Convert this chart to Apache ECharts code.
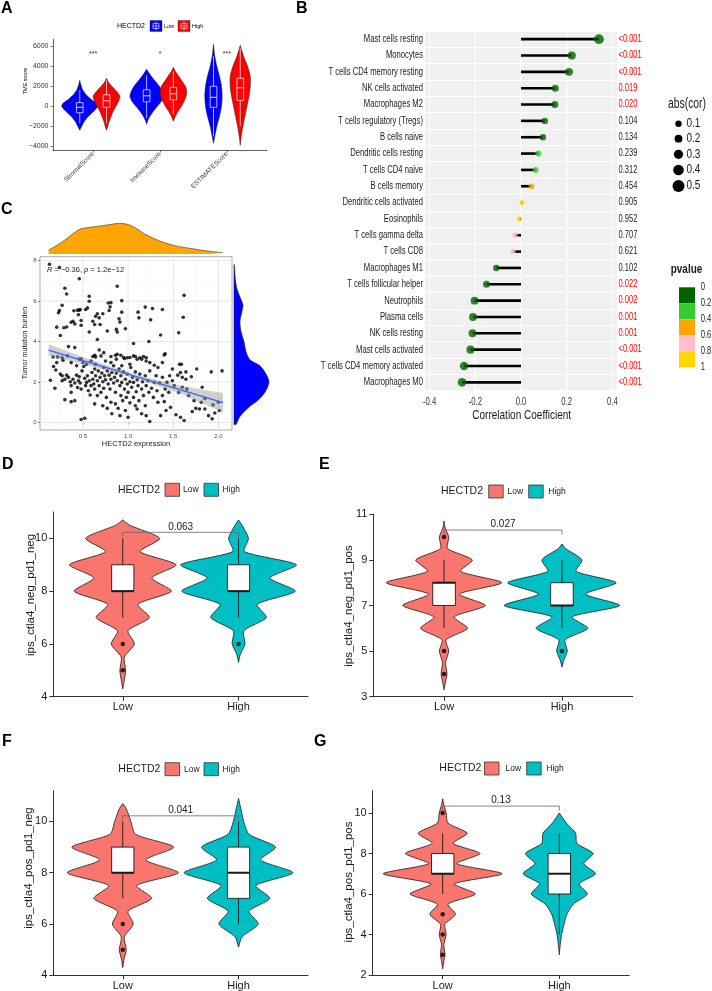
<!DOCTYPE html>
<html><head><meta charset="utf-8">
<script src="https://cdn.jsdelivr.net/npm/echarts@6/dist/echarts.min.js"></script>
<style>html,body{margin:0;padding:0;background:#fff}#main{width:712px;height:991px}</style>
</head><body><div id="main"></div>
<script>
// ---------------- DATA ----------------
// Panel A
const tmeCategories = ['StromalScore', 'ImmuneScore', 'ESTIMATEScore'];
const tmeSig = ['***', '*', '***'];
const tmeSigY = 5250;
const tmeTicks = [-4000, -2000, 0, 2000, 4000, 6000];
const stromalLowViolin = [[-2400,0],[-2000,0.03],[-1500,0.07],[-1000,0.13],[-500,0.21],[0,0.27],[300,0.25],[700,0.17],[1200,0.09],[1700,0.04],[2200,0.015],[2600,0]];
const stromalHighViolin = [[-2400,0],[-2000,0.02],[-1500,0.04],[-1000,0.07],[-500,0.1],[0,0.14],[500,0.18],[1000,0.2],[1500,0.15],[2000,0.08],[2400,0.03],[2800,0]];
const immuneLowViolin = [[-1800,0],[-1400,0.02],[-1000,0.05],[-500,0.1],[0,0.16],[500,0.22],[1000,0.25],[1500,0.23],[2000,0.19],[2500,0.13],[3000,0.07],[3400,0.03],[3700,0]];
const immuneHighViolin = [[-1500,0],[-1000,0.03],[-500,0.07],[0,0.12],[500,0.16],[1000,0.19],[1500,0.2],[2000,0.18],[2500,0.13],[3000,0.08],[3500,0.03],[3900,0]];
const estimateLowViolin = [[-3700,0],[-3000,0.02],[-2000,0.05],[-1000,0.09],[0,0.12],[1000,0.13],[2000,0.12],[3000,0.09],[4000,0.05],[5000,0.02],[6200,0]];
const estimateHighViolin = [[-3900,0],[-3000,0.015],[-2000,0.04],[-1000,0.07],[0,0.1],[1000,0.13],[2000,0.15],[3000,0.15],[4000,0.11],[5000,0.05],[6100,0]];
// boxes: [lower whisker, q1, median, q3, upper whisker]
const stromalLowBox = [-1700,-640,-100,360,1600];
const stromalHighBox = [-1700,-100,550,1150,2600];
const immuneLowBox = [-1200,450,1050,1650,3100];
const immuneHighBox = [-800,650,1250,1900,3500];
const estimateLowBox = [-3000,-100,900,2000,5000];
const estimateHighBox = [-2000,600,1850,2800,5800];

// Panel B
const cells = ['Mast cells resting','Monocytes','T cells CD4 memory resting','NK cells activated','Macrophages M2','T cells regulatory (Tregs)','B cells naive','Dendritic cells resting','T cells CD4 naive','B cells memory','Dendritic cells activated','Eosinophils','T cells gamma delta','T cells CD8','Macrophages M1','T cells follicular helper','Neutrophils','Plasma cells','NK cells resting','Mast cells activated','T cells CD4 memory activated','Macrophages M0'];
const cors = [0.341,0.222,0.210,0.150,0.148,0.104,0.096,0.076,0.064,0.046,0.004,-0.006,-0.027,-0.036,-0.108,-0.151,-0.203,-0.210,-0.212,-0.221,-0.249,-0.258];
const pNums = [0.0005,0.0005,0.0005,0.019,0.020,0.104,0.134,0.239,0.312,0.454,0.905,0.952,0.707,0.621,0.102,0.022,0.002,0.001,0.001,0.0005,0.0005,0.0005];
const pLabels = ['<0.001','<0.001','<0.001','0.019','0.020','0.104','0.134','0.239','0.312','0.454','0.905','0.952','0.707','0.621','0.102','0.022','0.002','0.001','0.001','<0.001','<0.001','<0.001'];
const corTicks = [-0.4, -0.2, 0, 0.2, 0.4];
const sizeLegend = [0.1, 0.2, 0.3, 0.4, 0.5];
const pBreaks = ['0', '0.2', '0.4', '0.6', '0.8', '1'];
const pBinColors = ['#006400', '#32CD32', '#FFA500', '#FFC0CB', '#FFD700'];

// Panel C
const tmbPoints = [
[0.13,7.82],[0.24,7.66],[0.46,7.10],[0.30,6.63],[0.32,6.35],[0.88,6.73],[0.57,6.24],[0.57,5.99],[0.27,5.79],[0.24,5.53],[0.23,5.42],[0.40,5.52],[0.44,5.55],[0.46,5.55],[0.47,5.58],[0.45,5.32],[0.53,5.58],[0.55,5.66],[0.66,5.37],[0.72,5.37],[0.80,5.71],[0.79,5.53],[0.78,5.90],[0.81,5.92],[0.93,6.02],[0.93,5.45],[0.91,4.96],[0.90,5.12],[0.64,5.25],[0.68,5.17],[0.61,5.00],[0.39,5.00],[0.41,4.87],[0.37,4.95],[0.21,4.71],[0.29,4.68],[0.32,4.72],[0.48,4.80],[0.48,5.04],[0.63,4.84],[0.69,4.84],[0.77,4.52],[0.87,4.60],[0.88,4.47],[0.97,4.63],[0.57,4.47],[1.11,5.45],[1.12,5.17],[1.19,5.70],[1.25,5.07],[1.27,5.63],[1.38,5.58],[1.23,4.00],[1.36,4.32],[1.40,3.34],[1.41,3.40],[1.62,6.28],[1.61,5.20],[1.56,4.43],[1.06,3.90],[0.66,4.10],[0.25,4.30],
[0.34,3.75],[0.41,3.70],[0.22,3.24],[0.27,3.20],[0.33,3.29],[0.46,3.13],[0.50,2.96],[0.61,3.26],[0.63,3.32],[0.64,3.24],[0.68,3.58],[0.73,3.45],[0.81,3.26],[0.86,3.32],[0.92,3.32],[0.96,3.16],[0.99,3.20],[1.06,3.29],[1.10,3.13],[1.13,3.20],[1.17,3.26],[1.20,3.20],[1.02,2.88],[0.93,2.80],
[0.17,3.24],[0.21,2.96],[0.28,3.08],[0.37,2.96],[0.43,2.80],[0.48,3.13],[0.54,2.88],[0.59,3.04],[0.64,2.88],[0.70,3.29],[0.75,3.04],[0.81,2.96],[0.87,3.13],[0.88,3.37],[0.95,3.21],[1.02,3.21],[1.08,3.26],[1.15,3.13],[1.20,3.04],[1.24,2.96],[1.29,2.83],[1.33,2.72],[1.38,2.96],[1.49,2.64],[1.64,2.50],[1.76,2.64],[1.92,2.50],
[0.14,2.09],[0.19,1.69],[0.30,1.13],[0.37,1.03],[0.41,1.08],[0.48,0.15],[0.52,0.21],[0.175,2.77],[0.20,2.59],[0.25,2.39],[0.27,2.31],[0.27,2.06],[0.30,2.14],[0.32,2.34],[0.34,2.23],[0.36,2.01],[0.37,1.82],[0.37,1.49],[0.39,2.14],[0.41,1.95],[0.43,2.34],[0.44,1.73],[0.45,2.06],[0.46,2.26],[0.47,1.95],[0.48,1.65],[0.49,2.55],[0.51,2.77],[0.52,2.18],[0.53,1.82],[0.54,1.98],[0.55,2.31],[0.56,1.57],[0.57,2.06],[0.58,1.36],[0.59,1.82],[0.60,2.47],[0.61,2.14],[0.62,1.90],[0.63,2.64],[0.63,1.65],[0.64,2.31],[0.66,2.06],[0.66,1.33],[0.67,2.55],[0.68,1.82],[0.69,2.23],[0.70,1.49],[0.71,2.44],[0.72,2.01],[0.73,2.72],[0.73,1.69],[0.74,2.31],[0.75,2.11],[0.76,1.24],[0.77,2.55],[0.78,1.90],[0.79,2.34],[0.80,1.65],[0.81,2.14],[0.81,1.00],[0.82,2.47],[0.84,1.95],[0.84,2.80],[0.85,2.23],[0.86,1.49],[0.87,2.44],[0.88,2.06],[0.89,0.70],[0.90,2.64],[0.91,1.82],[0.92,1.33],[0.92,2.31],[0.93,1.98],[0.94,1.08],[0.95,2.50],[0.96,1.65],[0.97,2.14],[0.98,1.24],[0.99,1.90],[0.99,2.39],[1.00,1.49],[1.02,2.01],[1.02,0.97],[1.03,2.72],[1.04,1.74],[1.05,2.23],[1.06,1.24],[1.06,1.98],[1.08,2.50],[1.09,1.52],[1.10,0.67],[1.10,2.11],[1.11,1.82],[1.12,1.08],[1.13,2.39],[1.15,1.65],[1.16,2.01],[1.17,1.33],[1.19,2.31],[1.20,1.82],[1.20,0.34],[1.22,2.06],[1.23,1.49],[1.24,0.05],[1.24,2.55],[1.26,1.69],[1.28,1.24],[1.29,1.98],[1.31,2.31],[1.32,1.57],[1.33,1.00],[1.35,1.95],[1.36,0.34],[1.38,1.33],[1.38,2.23],[1.40,1.03],[1.41,1.65],[1.43,1.98],[1.45,1.49],[1.46,2.31],[1.47,0.75],[1.49,2.06],[1.51,1.82],[1.53,0.38],[1.55,2.34],[1.56,1.49],[1.57,2.88],[1.58,2.47],[1.59,2.88],[1.60,2.23],[1.60,1.74],[1.62,0.10],[1.64,2.14],[1.65,1.65],[1.67,1.33],[1.70,2.26],[1.71,0.54],[1.73,1.08],[1.75,0.70],[1.79,0.67],[1.81,1.00],[1.82,1.74],[1.85,1.19],[1.85,0.67],[1.89,0.34],[1.93,0.18],[1.94,0.87],[1.96,0.47],[2.00,1.00],[2.04,2.55],[2.01,0.59],
[0.82,0.43],[0.91,0.34],[0.97,0.59],[1.00,0.26],[1.08,0.83],[1.15,0.43],[1.19,0.83],[1.42,0.59],[1.58,0.26],[0.72,0.83],[0.63,0.92],[0.77,0.70],[0.86,0.92]
];
const regX = [0.12, 0.5, 0.9, 1.2, 1.6, 2.05];
const regFit = [3.57, 3.06, 2.52, 2.12, 1.59, 0.98];
const regLower = [3.28, 2.89, 2.41, 2.00, 1.39, 0.50];
const regUpper = [3.86, 3.23, 2.63, 2.24, 1.79, 1.46];
const expDensX = [0.12,0.2,0.3,0.4,0.47,0.6,0.69,0.8,0.9,1.02,1.1,1.17,1.25,1.35,1.45,1.57,1.7,1.8,1.9,2.05];
const expDensH = [4,8,14,21,25,27,28,29.5,30.7,29,25,20.7,17,13,10,7.3,5.5,4,2.8,1.3];
const tmbDensY = [-0.1,0.3,0.8,1.1,1.5,2.0,2.4,2.8,3.1,3.5,4.0,4.5,5.0,5.5,5.8,6.2,6.6,7.0,7.8];
const tmbDensW = [2,6,16,24,31,35,32,26,16,12,10,7,6,8,9,6,3,1.5,0.3];
const cTicksX = [0.5, 1.0, 1.5, 2.0];
const cMinorX = [0.25, 0.75, 1.25, 1.75];
const cTicksY = [0, 2, 4, 6, 8];
const cMinorY = [1, 3, 5, 7];

// Panels D-G
const groups = ['Low', 'High'];
const dLowViolin = [[4.3,0],[4.6,0.012],[5.0,0.025],[5.5,0.013],[6.0,0.1],[6.5,0.045],[7.0,0.23],[7.5,0.13],[8.0,0.42],[8.5,0.25],[9.0,0.46],[9.5,0.15],[10.0,0.32],[10.5,0.06],[10.7,0]];
const dHighViolin = [[5.3,0],[5.6,0.015],[6.0,0.055],[6.5,0.045],[7.0,0.24],[7.5,0.16],[8.0,0.49],[8.5,0.27],[9.0,0.5],[9.5,0.05],[10.0,0.086],[10.5,0.03],[10.7,0]];
const dLowBox = [7,8,8,9,10], dHighBox = [7,8,8,9,10];
const dLowOut = [6,5], dHighOut = [6];
const dP = '0.063', dBracket = 10.23;
const eLowViolin = [[3.3,0],[3.6,0.01],[4.0,0.025],[4.5,0.013],[5.0,0.04],[5.5,0.018],[6.0,0.2],[6.5,0.085],[7.0,0.35],[7.5,0.13],[8.0,0.49],[8.5,0.14],[9.0,0.24],[9.5,0.03],[10.0,0.04],[10.4,0.01],[10.7,0]];
const eHighViolin = [[4.3,0],[4.6,0.015],[5.0,0.045],[5.5,0.028],[6.0,0.22],[6.5,0.085],[7.0,0.49],[7.5,0.2],[8.0,0.46],[8.5,0.12],[9.0,0.17],[9.5,0.03],[9.7,0]];
const eLowBox = [6,7,8,8,9], eHighBox = [6,7,7,8,9];
const eLowOut = [10,5,4], eHighOut = [5];
const eP = '0.027', eBracket = 10.31;
const fLowViolin = [[4.3,0],[4.6,0.01],[5.0,0.03],[5.5,0.013],[6.0,0.09],[6.5,0.045],[7.0,0.25],[7.5,0.12],[8.0,0.48],[8.5,0.2],[9.0,0.44],[9.5,0.11],[10.0,0.07],[10.5,0.03],[10.7,0]];
const fHighViolin = [[5.1,0],[5.5,0.03],[6.0,0.17],[6.5,0.09],[7.0,0.27],[7.5,0.15],[8.0,0.47],[8.5,0.19],[9.0,0.32],[9.5,0.09],[10.0,0.045],[10.5,0.02],[10.9,0]];
const fLowBox = [7,8,8,9,10], fHighBox = [6,7,8,9,10];
const fLowOut = [6,5], fHighOut = [];
const fP = '0.041', fBracket = 10.22;
const gLowViolin = [[2.3,0],[2.7,0.01],[3.0,0.02],[3.5,0.01],[4.0,0.03],[4.5,0.018],[5.0,0.11],[5.5,0.045],[6.0,0.28],[6.5,0.1],[7.0,0.51],[7.5,0.12],[8.0,0.32],[8.5,0.09],[9.0,0.21],[9.5,0.045],[10.0,0.03],[10.4,0.01],[10.7,0]];
const gHighViolin = [[3.0,0],[3.5,0.008],[4.0,0.02],[4.5,0.04],[5.0,0.065],[5.5,0.12],[6.0,0.24],[6.5,0.17],[7.0,0.31],[7.5,0.21],[8.0,0.29],[8.5,0.15],[9.0,0.14],[9.5,0.06],[10.0,0]];
const gLowBox = [6,7,7,8,9], gHighBox = [4,6,7,8,9];
const gLowOut = [10,5,4,3], gHighOut = [];
const gP = '0.13', gBracket = 10.34;

// ---------------- RENDER ----------------
const FONT = '"Liberation Sans", Arial, Helvetica, sans-serif';
const LOWC = '#F8766D', HIGHC = '#00BFC4';
const BSCALE = 0.73; // panel B text is horizontally condensed
const pColor = p => pBinColors[Math.min(4, Math.floor(p / 0.2))];
const dotSize = c => 5 + 14 * Math.abs(c);

function violin(ax, center, prof, fill, lw) {
  return {
    type: 'custom', xAxisIndex: ax, yAxisIndex: ax, z: 2, silent: true,
    data: [[center, prof[Math.floor(prof.length / 2)][0]]],
    renderItem(params, api) {
      const right = prof.map(p => api.coord([center + p[1], p[0]]));
      const left = prof.slice().reverse().map(p => api.coord([center - p[1], p[0]]));
      return { type: 'polygon', shape: { points: right.concat(left), smooth: 0.22 },
        style: { fill: fill, stroke: '#1a1a1a', lineWidth: lw } };
    }
  };
}
function box(ax, center, st, hw, stroke, fill, medW, lw) {
  return {
    type: 'custom', xAxisIndex: ax, yAxisIndex: ax, z: 3, silent: true,
    data: [[center, st[2]]],
    renderItem(params, api) {
      const lo = api.coord([center, st[0]]), q1 = api.coord([center, st[1]]);
      const q3 = api.coord([center, st[3]]), hi = api.coord([center, st[4]]);
      const tl = api.coord([center - hw, st[3]]), br = api.coord([center + hw, st[1]]);
      const m1 = api.coord([center - hw, st[2]]), m2 = api.coord([center + hw, st[2]]);
      return { type: 'group', children: [
        { type: 'line', shape: { x1: lo[0], y1: lo[1], x2: q1[0], y2: q1[1] }, style: { stroke: stroke, lineWidth: lw } },
        { type: 'line', shape: { x1: q3[0], y1: q3[1], x2: hi[0], y2: hi[1] }, style: { stroke: stroke, lineWidth: lw } },
        { type: 'rect', shape: { x: tl[0], y: tl[1], width: br[0] - tl[0], height: br[1] - tl[1] }, style: { fill: fill, stroke: stroke, lineWidth: lw } },
        { type: 'line', shape: { x1: m1[0], y1: m1[1], x2: m2[0], y2: m2[1] }, style: { stroke: stroke, lineWidth: medW } }
      ] };
    }
  };
}
function outliers(ax, center, vals) {
  return { type: 'scatter', xAxisIndex: ax, yAxisIndex: ax, z: 4, silent: true,
    data: vals.map(v => [center, v]), symbolSize: 4.5, itemStyle: { color: '#000' } };
}
function bracket(ax, y, text) {
  return {
    type: 'custom', xAxisIndex: ax, yAxisIndex: ax, z: 5, silent: true,
    data: [[1.5, y]],
    renderItem(params, api) {
      const a = api.coord([1, y]), b = api.coord([2, y]);
      return { type: 'group', children: [
        { type: 'polyline', shape: { points: [[a[0], a[1] + 4.5], [a[0], a[1]], [b[0], b[1]], [b[0], b[1] + 4.5]] },
          style: { stroke: '#666', lineWidth: 0.8, fill: null } },
        { type: 'text', x: (a[0] + b[0]) / 2, y: a[1] - 0.5,
          style: { text: text, fill: '#222', fontSize: 10, fontFamily: FONT, align: 'center', verticalAlign: 'bottom' } }
      ] };
    }
  };
}
function gridLines(ax, vals, dir, color, width, other) {
  return {
    type: 'custom', xAxisIndex: ax, yAxisIndex: ax, z: 1, silent: true,
    data: vals.map(v => dir === 'v' ? [v, other] : [other, v]),
    renderItem(params, api) {
      const cs = params.coordSys;
      if (dir === 'v') {
        const x = api.coord([api.value(0), other])[0];
        return { type: 'line', shape: { x1: x, y1: cs.y, x2: x, y2: cs.y + cs.height }, style: { stroke: color, lineWidth: width } };
      }
      const y = api.coord([other, api.value(1)])[1];
      return { type: 'line', shape: { x1: cs.x, y1: y, x2: cs.x + cs.width, y2: y }, style: { stroke: color, lineWidth: width } };
    }
  };
}
function panelSeries(ax, lv, hv, lb, hb, lo, ho, p, by) {
  return [
    violin(ax, 1, lv, LOWC, 0.8), violin(ax, 2, hv, HIGHC, 0.8),
    box(ax, 1, lb, 0.096, '#1a1a1a', '#fff', 2, 0.9), box(ax, 2, hb, 0.096, '#1a1a1a', '#fff', 2, 0.9),
    outliers(ax, 1, lo), outliers(ax, 2, ho), bracket(ax, by, p)
  ];
}

// axes helpers
const axLineBlack = { show: true, onZero: false, lineStyle: { color: '#1a1a1a', width: 0.9 } };
function dgX(gi) {
  return { gridIndex: gi, type: 'value', min: 0.4, max: 2.6, axisLine: axLineBlack,
    axisTick: { show: true, length: 4, customValues: [1, 2], lineStyle: { color: '#1a1a1a', width: 0.9 } },
    axisLabel: { customValues: [1, 2], formatter: v => groups[Math.round(v) - 1], fontSize: 11, color: '#1a1a1a', margin: 5, fontFamily: FONT },
    splitLine: { show: false } };
}
function dgY(gi, min, max, ticks) {
  return { gridIndex: gi, type: 'value', min: min, max: max, axisLine: axLineBlack,
    axisTick: { show: true, length: 4, customValues: ticks, lineStyle: { color: '#1a1a1a', width: 0.9 } },
    axisLabel: { customValues: ticks, fontSize: 11, color: '#1a1a1a', margin: 6, fontFamily: FONT },
    splitLine: { show: false } };
}

const xAxis = [
  { gridIndex: 0, type: 'value', min: 0.4, max: 3.6, axisLine: { show: true, onZero: false, lineStyle: { color: '#1a1a1a', width: 0.7 } },
    axisTick: { show: true, length: 2.5, customValues: [1, 2, 3], lineStyle: { color: '#333', width: 0.6 } },
    axisLabel: { customValues: [1, 2, 3], formatter: v => tmeCategories[Math.round(v) - 1], rotate: 45, fontSize: 6.5, color: '#333', margin: 3, fontFamily: FONT },
    splitLine: { show: false } },
  { gridIndex: 1, type: 'value', min: -0.42, max: 0.42, axisLine: { show: false }, axisTick: { show: false },
    axisLabel: { show: false }, splitLine: { show: false } },
  { gridIndex: 2, type: 'value', min: 0.025, max: 2.15, axisLine: { show: false },
    axisTick: { show: true, length: 2, customValues: cTicksX, lineStyle: { color: '#333', width: 0.6 } },
    axisLabel: { customValues: cTicksX, formatter: v => v.toFixed(1), fontSize: 6, color: '#4d4d4d', margin: 3.5, fontFamily: FONT },
    splitLine: { show: false } },
  { gridIndex: 3, type: 'value', min: 0.025, max: 2.15, show: false },
  { gridIndex: 4, type: 'value', min: 0, max: 40, show: false },
  dgX(5), dgX(6), dgX(7), dgX(8)
];
const yAxis = [
  { gridIndex: 0, type: 'value', min: -4370, max: 6700, axisLine: { show: true, onZero: false, lineStyle: { color: '#1a1a1a', width: 0.7 } },
    axisTick: { show: true, length: 2.5, customValues: tmeTicks, lineStyle: { color: '#333', width: 0.6 } },
    axisLabel: { customValues: tmeTicks, formatter: v => (v < 0 ? '\u2212' + Math.abs(v) : String(v)), fontSize: 7, color: '#333', margin: 4.5, fontFamily: FONT },
    splitLine: { show: false } },
  { gridIndex: 1, type: 'category', data: cells, inverse: true, axisLine: { show: false }, axisTick: { show: false, interval: 0 },
    axisLabel: { show: false },
    splitLine: { show: true, interval: 0, lineStyle: { color: '#ffffff', width: 1.2 } } },
  { gridIndex: 2, type: 'value', min: -0.37, max: 8.19, axisLine: { show: false },
    axisTick: { show: true, length: 2, customValues: cTicksY, lineStyle: { color: '#333', width: 0.6 } },
    axisLabel: { customValues: cTicksY, fontSize: 6, color: '#4d4d4d', margin: 3.5, fontFamily: FONT },
    splitLine: { show: false } },
  { gridIndex: 3, type: 'value', min: 0, max: 34, show: false },
  { gridIndex: 4, type: 'value', min: -0.37, max: 8.19, show: false },
  dgY(5, 4, 11, [4, 6, 8, 10]),
  dgY(6, 3, 11, [3, 5, 7, 9, 11]),
  dgY(7, 4, 11.2, [4, 6, 8, 10]),
  dgY(8, 2, 11.1, [2, 4, 6, 8, 10])
];
const g = (l, t, w, h, extra) => Object.assign({ left: l, top: t, width: w, height: h, containLabel: false, outerBoundsMode: 'none' }, extra || {});
const grid = [
  g(53, 39.3, 214, 110.7),
  g(425, 31, 192, 359.5, { show: true, backgroundColor: '#F0F0F0', borderWidth: 0 }),
  g(40, 256.7, 192, 173.3, { show: true, backgroundColor: '#fff', borderColor: '#8a8a8a', borderWidth: 0.7 }),
  g(40, 220, 192, 34),
  g(234, 256.7, 40, 173.3),
  g(53.3, 512, 254.7, 184.7),
  g(373.3, 514.3, 259.4, 182.4),
  g(53.3, 790.7, 254.7, 184.6),
  g(372.7, 790.7, 256.6, 184.3)
];

const series = [];
// Panel A
const aV = [[stromalLowViolin, stromalHighViolin], [immuneLowViolin, immuneHighViolin], [estimateLowViolin, estimateHighViolin]];
const aB = [[stromalLowBox, stromalHighBox], [immuneLowBox, immuneHighBox], [estimateLowBox, estimateHighBox]];
aV.forEach((pair, i) => {
  series.push(violin(0, i + 1 - 0.2, pair[0], '#0000FF', 0.5));
  series.push(violin(0, i + 1 + 0.2, pair[1], '#FF0000', 0.5));
});
aB.forEach((pair, i) => {
  series.push(box(0, i + 1 - 0.2, pair[0], 0.05, '#ffffff', 'none', 0.9, 0.7));
  series.push(box(0, i + 1 + 0.2, pair[1], 0.05, '#ffffff', 'none', 0.9, 0.7));
});
series.push({ type: 'custom', xAxisIndex: 0, yAxisIndex: 0, z: 5, silent: true,
  data: tmeSig.map((s, i) => [i + 1, tmeSigY]),
  renderItem(params, api) {
    const p = api.coord([api.value(0), api.value(1)]);
    return { type: 'text', x: p[0], y: p[1], style: { text: tmeSig[params.dataIndex], fontSize: 7, fontFamily: FONT, fill: '#333', align: 'center', verticalAlign: 'middle' } };
  } });

// Panel B
series.push(gridLines(1, corTicks, 'v', '#ffffff', 1.2, 0));
series.push({ type: 'bar', xAxisIndex: 1, yAxisIndex: 1, data: cors, barWidth: 2.6, z: 2, silent: true, itemStyle: { color: '#000' } });
series.push({ type: 'scatter', xAxisIndex: 1, yAxisIndex: 1, z: 3, silent: true,
  data: cors.map((c, i) => ({ value: [c, i], symbolSize: dotSize(c), itemStyle: { color: pColor(pNums[i]) } })) });
// B: condensed category labels (left) and p-values (right)
series.push({ type: 'custom', xAxisIndex: 1, yAxisIndex: 1, z: 6, silent: true,
  data: cells.map((c, i) => [0, i]),
  renderItem(params, api) {
    const cs = params.coordSys;
    const y = api.coord([0, api.value(1)])[1];
    const i = params.dataIndex;
    return { type: 'group', children: [
      { type: 'text', x: cs.x - 2, y: y, scaleX: BSCALE,
        style: { text: cells[i], fill: '#1a1a1a', fontSize: 10.5, fontFamily: FONT, align: 'right', verticalAlign: 'middle' } },
      { type: 'text', x: cs.x + cs.width + 1.5, y: y, scaleX: BSCALE,
        style: { text: pLabels[i], fill: pNums[i] < 0.05 ? '#FF0000' : '#1a1a1a', fontSize: 10.3, fontFamily: FONT, align: 'left', verticalAlign: 'middle' } }
    ] };
  } });
// B: condensed x tick labels
series.push({ type: 'custom', xAxisIndex: 1, yAxisIndex: 1, z: 6, silent: true,
  data: corTicks.map(v => [v, 0]),
  renderItem(params, api) {
    const cs = params.coordSys;
    const x = api.coord([api.value(0), 0])[0];
    return { type: 'text', x: x, y: cs.y + cs.height + 11.3, scaleX: 0.75,
      style: { text: api.value(0).toFixed(1), fill: '#333', fontSize: 10.3, fontFamily: FONT, align: 'center', verticalAlign: 'middle' } };
  } });

// Panel C
series.push(gridLines(2, cMinorX, 'v', '#F2F2F2', 0.5, 4));
series.push(gridLines(2, cMinorY, 'h', '#F2F2F2', 0.5, 1));
series.push(gridLines(2, cTicksX, 'v', '#E6E6E6', 0.9, 4));
series.push(gridLines(2, cTicksY, 'h', '#E6E6E6', 0.9, 1));
series.push({ type: 'scatter', xAxisIndex: 2, yAxisIndex: 2, z: 3, silent: true, data: tmbPoints, symbolSize: 3.6, itemStyle: { color: '#000' } });
series.push({ type: 'custom', xAxisIndex: 2, yAxisIndex: 2, z: 4, silent: true, data: [[regX[0], regFit[0]]],
  renderItem(params, api) {
    const up = regX.map((x, i) => api.coord([x, regUpper[i]]));
    const lo = regX.map((x, i) => api.coord([x, regLower[i]])).reverse();
    return { type: 'polygon', shape: { points: up.concat(lo) }, style: { fill: 'rgba(150,150,150,0.45)' } };
  } });
series.push({ type: 'line', xAxisIndex: 2, yAxisIndex: 2, z: 5, silent: true, showSymbol: false, symbol: 'none',
  data: regX.map((x, i) => [x, regFit[i]]), lineStyle: { color: '#3366FF', width: 1.3 } });
series.push({ type: 'line', xAxisIndex: 3, yAxisIndex: 3, z: 2, silent: true, symbol: 'none', smooth: 0.3,
  data: expDensX.map((x, i) => [x, expDensH[i]]), lineStyle: { color: '#333', width: 0.6 },
  areaStyle: { color: '#FFA500', opacity: 1 } });
series.push({ type: 'custom', xAxisIndex: 4, yAxisIndex: 4, z: 2, silent: true, data: [[0, tmbDensY[0]]],
  renderItem(params, api) {
    const curve = tmbDensY.map((y, i) => api.coord([tmbDensW[i], y]));
    const last = tmbDensY[tmbDensY.length - 1];
    const b1 = api.coord([0, last]), b0 = api.coord([0, tmbDensY[0]]);
    return { type: 'polygon', shape: { points: curve.concat([b1, b1, b0, b0]), smooth: 0.3 },
      style: { fill: '#0000FF', stroke: '#222', lineWidth: 0.6 } };
  } });

// Panels D-G
series.push(...panelSeries(5, dLowViolin, dHighViolin, dLowBox, dHighBox, dLowOut, dHighOut, dP, dBracket));
series.push(...panelSeries(6, eLowViolin, eHighViolin, eLowBox, eHighBox, eLowOut, eHighOut, eP, eBracket));
series.push(...panelSeries(7, fLowViolin, fHighViolin, fLowBox, fHighBox, fLowOut, fHighOut, fP, fBracket));
series.push(...panelSeries(8, gLowViolin, gHighViolin, gLowBox, gHighBox, gLowOut, gHighOut, gP, gBracket));

// ---------------- GRAPHIC (titles, legends) ----------------
function T(x, y, text, size, o) {
  o = o || {};
  return { type: 'text', x: x, y: y, rotation: o.rot || 0, scaleX: o.sx || 1, silent: true, z: 100,
    style: { text: text, fill: o.color || '#000', fontSize: size, fontFamily: o.family || FONT, fontWeight: o.weight || 'normal',
      align: o.align || 'left', verticalAlign: o.va || 'middle', rich: o.rich } };
}
function R(x, y, w, h, fill, stroke, lw) {
  return { type: 'rect', silent: true, z: 100, shape: { x: x, y: y, width: w, height: h }, style: { fill: fill, stroke: stroke || null, lineWidth: lw || 0 } };
}
function L(x1, y1, x2, y2, stroke, lw) {
  return { type: 'line', silent: true, z: 101, shape: { x1: x1, y1: y1, x2: x2, y2: y2 }, style: { stroke: stroke, lineWidth: lw } };
}
const els = [];
// panel letters
[['A', 1, 1], ['B', 296, 1], ['C', 1, 202], ['D', 2, 457], ['E', 319, 457], ['F', 2, 734], ['G', 314, 734]].forEach(a => {
  els.push(T(a[1], a[2], a[0], 16, { weight: 'bold', va: 'top' }));
});
// Panel A legend + title
els.push(T(117, 26, 'HECTD2', 7));
[[150, '#0000FF', 'Low', 164], [178, '#FF0000', 'High', 192]].forEach(k => {
  els.push(R(k[0], 20.5, 12, 11, k[1], '#222', 0.4));
  els.push(L(k[0] + 6, 21.5, k[0] + 6, 30.5, '#fff', 0.6));
  els.push(R(k[0] + 3, 23.5, 6, 5, k[1], '#fff', 0.6));
  els.push(L(k[0] + 3, 26, k[0] + 9, 26, '#fff', 0.6));
  els.push(T(k[3], 26, k[2], 5.5));
});
els.push(T(25, 81, 'TME score', 5.5, { rot: Math.PI / 2, align: 'center' }));
// Panel B legends + axis title
els.push(T(521.7, 415, 'Correlation Coefficient', 13, { align: 'center', color: '#1a1a1a', sx: 0.77 }));
els.push(T(668, 104, 'abs(cor)', 14, { color: '#1a1a1a', sx: 0.74 }));
const sizeY = [123.7, 138.7, 154.3, 170, 186];
sizeLegend.forEach((v, i) => {
  els.push({ type: 'circle', silent: true, z: 100, shape: { cx: 678.5, cy: sizeY[i], r: dotSize(v) / 2 }, style: { fill: '#000' } });
  els.push(T(686.5, sizeY[i], String(v), 12.5, { color: '#1a1a1a', sx: 0.8 }));
});
els.push(T(670.7, 269, 'pvalue', 13.5, { weight: 'bold', color: '#1a1a1a', sx: 0.74 }));
pBinColors.forEach((c, i) => els.push(R(679, 287.3 + 16 * i, 16, 16, c)));
pBreaks.forEach((b, i) => els.push(T(700.7, 287.3 + 16 * i, b, 10.5, { color: '#1a1a1a', sx: 0.73 })));
// Panel C titles
els.push(T(25, 343, 'Tumor mutation burden', 7, { rot: Math.PI / 2, align: 'center', color: '#1a1a1a' }));
els.push(T(136, 444, 'HECTD2 expression', 7.5, { align: 'center', color: '#1a1a1a' }));
els.push(T(47, 269.5, '{i|R} = \u22120.36, {i|p} = 1.2e\u221212', 7.5, { color: '#1a1a1a',
  rich: { i: { fontStyle: 'italic', fontSize: 7.5, fontFamily: FONT, fill: '#1a1a1a' } } }));
// Panels D-G legends and y titles
function legendDG(tx, ky, lowX, lowTX, highX, highTX) {
  els.push(T(tx, ky + 6.5, 'HECTD2', 10.5, { color: '#1a1a1a' }));
  els.push(R(lowX, ky, 14.5, 13, LOWC, '#333', 0.8));
  els.push(T(lowTX, ky + 6.5, 'Low', 8.5, { color: '#1a1a1a' }));
  els.push(R(highX, ky, 14.5, 13, HIGHC, '#333', 0.8));
  els.push(T(highTX, ky + 6.5, 'High', 8.5, { color: '#1a1a1a' }));
}
legendDG(118, 483.3, 165, 183, 204, 222.5);
legendDG(441, 485, 488.7, 507.5, 528.7, 548.3);
legendDG(118.3, 762.7, 165, 184, 204, 222.5);
legendDG(439.3, 762, 484.5, 505.5, 526.7, 546.3);
els.push(T(31, 595, 'ips_ctla4_neg_pd1_neg', 11.5, { rot: Math.PI / 2, align: 'center', color: '#1a1a1a' }));
els.push(T(349, 606, 'ips_ctla4_neg_pd1_pos', 11.5, { rot: Math.PI / 2, align: 'center', color: '#1a1a1a' }));
els.push(T(29, 868, 'ips_ctla4_pos_pd1_neg', 11.5, { rot: Math.PI / 2, align: 'center', color: '#1a1a1a' }));
els.push(T(349, 882, 'ips_ctla4_pos_pd1_pos', 11.5, { rot: Math.PI / 2, align: 'center', color: '#1a1a1a' }));

const chart = echarts.init(document.getElementById('main'), null, { renderer: 'canvas', width: 712, height: 991 });
chart.setOption({
  animation: false,
  backgroundColor: '#ffffff',
  textStyle: { fontFamily: FONT },
  grid: grid, xAxis: xAxis, yAxis: yAxis, series: series,
  graphic: { elements: els }
});
</script></body></html>
